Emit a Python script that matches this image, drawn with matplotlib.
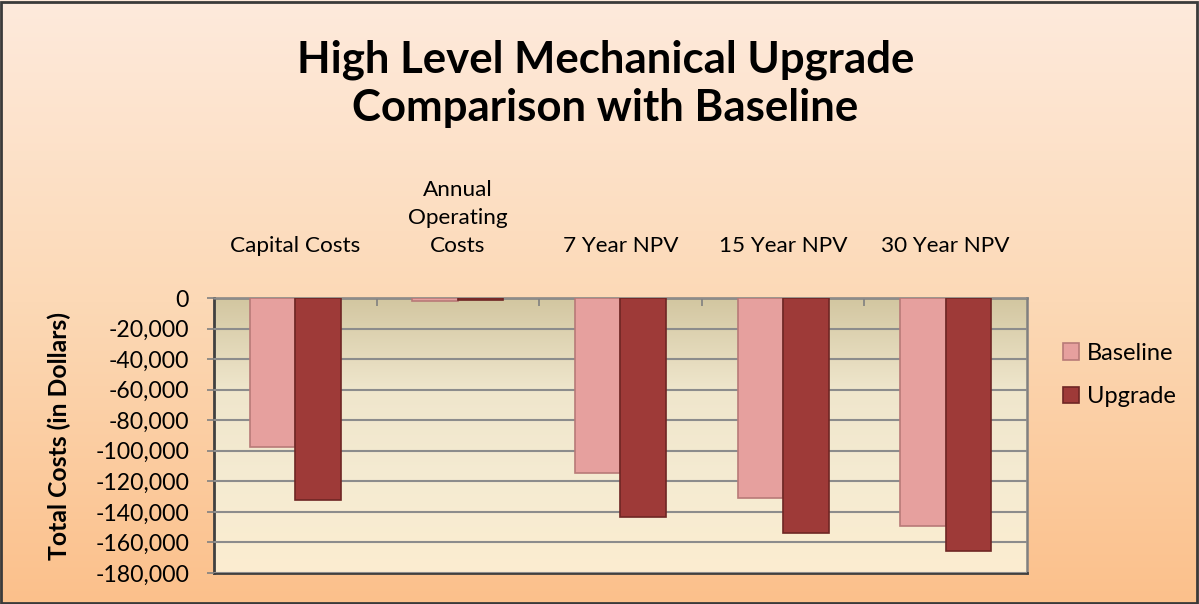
import numpy as np
import matplotlib
matplotlib.use("Agg")
import matplotlib.pyplot as plt
from matplotlib.ticker import FuncFormatter, FixedLocator
from matplotlib.colors import LinearSegmentedColormap
from matplotlib.patches import Rectangle

categories = ["Capital Costs", "Annual\nOperating\nCosts", "7 Year NPV", "15 Year NPV", "30 Year NPV"]
baseline = [-97500, -1800, -114800, -130700, -149000]
upgrade = [-132200, -1100, -143500, -154000, -165600]
series_names = ["Baseline", "Upgrade"]
title_lines = ["High Level Mechanical Upgrade", "Comparison with Baseline"]
colors = ["#E6A09E", "#9E3A38"]
edges = ["#B87A78", "#6E2624"]

FONT = ["Lato", "DejaVu Sans"]
plt.rcParams['font.family'] = FONT

fig = plt.figure(figsize=(11.99, 6.04), dpi=100)

# figure background gradient
bg = fig.add_axes([0, 0, 1, 1], zorder=-10)
bg_cmap = LinearSegmentedColormap.from_list("bg", ["#FEEADC", "#FCD9B6", "#FBC08B"])
grad = np.linspace(0, 1, 256).reshape(-1, 1)
bg.imshow(grad, aspect="auto", cmap=bg_cmap, extent=[0, 1, 0, 1], origin="upper")
bg.set_axis_off()
fig.patches.append(Rectangle((0.001, 0.002), 0.997, 0.995, transform=fig.transFigure,
                             fill=False, edgecolor="#3A3A3A", linewidth=2, zorder=10))

ax = fig.add_axes([0.1785, 0.0513, 0.678, 0.4553])
ax.set_facecolor("none")
ax_cmap = LinearSegmentedColormap.from_list("ax", ["#D2C6A0", "#EFE6CC", "#F5EBD2", "#FCEDD0"])
ax.imshow(grad, aspect="auto", cmap=ax_cmap, extent=[-0.5, 4.5, -180000, 0],
          origin="upper", zorder=0)

x = np.arange(len(categories))
w = 0.28
ax.bar(x - w / 2, baseline, width=w, color=colors[0], edgecolor=edges[0], linewidth=1.2,
       label=series_names[0], zorder=3, align="center")
ax.bar(x + w / 2, upgrade, width=w, color=colors[1], edgecolor=edges[1], linewidth=1.2,
       label=series_names[1], zorder=3, align="center")

ax.set_xlim(-0.5, 4.5)
ax.set_ylim(-180000, 0)
ax.set_yticks(np.arange(-180000, 1, 20000))
ax.yaxis.set_major_formatter(FuncFormatter(lambda v, p: f"{int(v):,}"))
ax.grid(axis="y", color="#8C8C8C", linewidth=1.5, zorder=1)
ax.set_axisbelow(False)

ax.xaxis.tick_top()
ax.set_xticks(x)
ax.set_xticklabels(categories, fontsize=16.2, linespacing=1.5)
ax.tick_params(axis="x", which="major", length=0, pad=30)
ax.xaxis.set_minor_locator(FixedLocator(np.arange(0.5, 4.5, 1.0)))
ax.tick_params(axis="x", which="minor", top=True, direction="in", length=6, color="#808080", width=1.2)
ax.tick_params(axis="y", direction="out", length=5, color="#808080", width=1.2, labelsize=16.6, pad=13)

for s in ["left", "bottom"]:
    ax.spines[s].set_color("#404040")
    ax.spines[s].set_linewidth(2)
for s in ["top", "right"]:
    ax.spines[s].set_color("#808080")
    ax.spines[s].set_linewidth(1.8)

ax.set_ylabel("Total Costs (in Dollars)", fontsize=17.8, fontweight="bold", labelpad=17)

fig.text(0.505, 1 - 60 / 604, title_lines[0], ha="center", va="center", fontsize=31.5, fontweight="bold")
fig.text(0.505, 1 - 108 / 604, title_lines[1], ha="center", va="center", fontsize=31.5, fontweight="bold")

leg = ax.legend(loc="center left", bbox_to_anchor=(1.044, 0.72), frameon=False, fontsize=17,
                handlelength=0.68, handleheight=0.68, handletextpad=0.35, labelspacing=0.95,
                borderpad=0, borderaxespad=0)

fig.savefig("out.png", dpi=100)
